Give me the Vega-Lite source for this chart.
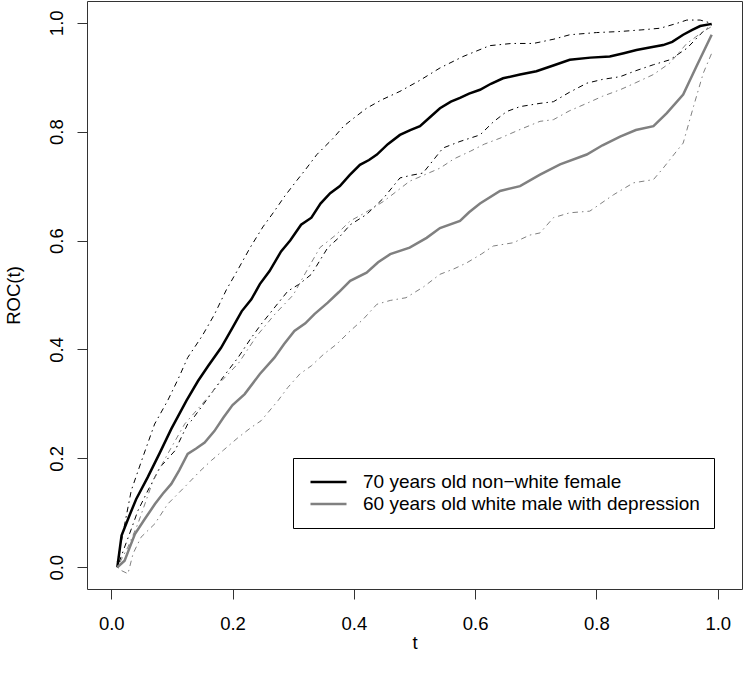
{
  "$schema": "https://vega.github.io/schema/vega-lite/v6.json",
  "width": 655,
  "height": 588,
  "autosize": {"type": "none"},
  "padding": {"left": 87, "top": 1, "right": 2, "bottom": 87},
  "background": "white",
  "config": {
    "font": "Liberation Sans",
    "view": {"stroke": "#333", "strokeWidth": 1},
    "axis": {"grid": false, "domain": false, "tickSize": 10, "tickColor": "#333", "tickWidth": 1,
      "labelFont": "Liberation Sans", "labelFontSize": 18.5, "labelColor": "#000",
      "titleFont": "Liberation Sans", "titleFontSize": 18.5, "titleFontWeight": "normal", "titleColor": "#000"}
  },
  "datasets": {
    "roc": [
      {"curve": "70 years old non−white female", "part": "est", "t": 0.01, "v": 0.0},
      {"curve": "70 years old non−white female", "part": "est", "t": 0.017, "v": 0.058},
      {"curve": "70 years old non−white female", "part": "est", "t": 0.03, "v": 0.095},
      {"curve": "70 years old non−white female", "part": "est", "t": 0.041, "v": 0.125},
      {"curve": "70 years old non−white female", "part": "est", "t": 0.06, "v": 0.165},
      {"curve": "70 years old non−white female", "part": "est", "t": 0.08, "v": 0.21},
      {"curve": "70 years old non−white female", "part": "est", "t": 0.099, "v": 0.254},
      {"curve": "70 years old non−white female", "part": "est", "t": 0.124, "v": 0.306},
      {"curve": "70 years old non−white female", "part": "est", "t": 0.143, "v": 0.342},
      {"curve": "70 years old non−white female", "part": "est", "t": 0.16, "v": 0.37},
      {"curve": "70 years old non−white female", "part": "est", "t": 0.181, "v": 0.403},
      {"curve": "70 years old non−white female", "part": "est", "t": 0.2, "v": 0.44},
      {"curve": "70 years old non−white female", "part": "est", "t": 0.215, "v": 0.47},
      {"curve": "70 years old non−white female", "part": "est", "t": 0.231, "v": 0.492},
      {"curve": "70 years old non−white female", "part": "est", "t": 0.245, "v": 0.52},
      {"curve": "70 years old non−white female", "part": "est", "t": 0.261, "v": 0.544},
      {"curve": "70 years old non−white female", "part": "est", "t": 0.28, "v": 0.58},
      {"curve": "70 years old non−white female", "part": "est", "t": 0.295, "v": 0.6},
      {"curve": "70 years old non−white female", "part": "est", "t": 0.313, "v": 0.629},
      {"curve": "70 years old non−white female", "part": "est", "t": 0.33, "v": 0.642},
      {"curve": "70 years old non−white female", "part": "est", "t": 0.345, "v": 0.668},
      {"curve": "70 years old non−white female", "part": "est", "t": 0.361, "v": 0.687},
      {"curve": "70 years old non−white female", "part": "est", "t": 0.377, "v": 0.7},
      {"curve": "70 years old non−white female", "part": "est", "t": 0.393, "v": 0.72},
      {"curve": "70 years old non−white female", "part": "est", "t": 0.41, "v": 0.739},
      {"curve": "70 years old non−white female", "part": "est", "t": 0.425, "v": 0.748},
      {"curve": "70 years old non−white female", "part": "est", "t": 0.438, "v": 0.758},
      {"curve": "70 years old non−white female", "part": "est", "t": 0.456, "v": 0.777},
      {"curve": "70 years old non−white female", "part": "est", "t": 0.476, "v": 0.794},
      {"curve": "70 years old non−white female", "part": "est", "t": 0.493, "v": 0.803},
      {"curve": "70 years old non−white female", "part": "est", "t": 0.509, "v": 0.81},
      {"curve": "70 years old non−white female", "part": "est", "t": 0.525, "v": 0.826},
      {"curve": "70 years old non−white female", "part": "est", "t": 0.542, "v": 0.843},
      {"curve": "70 years old non−white female", "part": "est", "t": 0.56, "v": 0.855},
      {"curve": "70 years old non−white female", "part": "est", "t": 0.575, "v": 0.862},
      {"curve": "70 years old non−white female", "part": "est", "t": 0.59, "v": 0.87},
      {"curve": "70 years old non−white female", "part": "est", "t": 0.608, "v": 0.877},
      {"curve": "70 years old non−white female", "part": "est", "t": 0.626, "v": 0.888},
      {"curve": "70 years old non−white female", "part": "est", "t": 0.646, "v": 0.898},
      {"curve": "70 years old non−white female", "part": "est", "t": 0.674, "v": 0.905},
      {"curve": "70 years old non−white female", "part": "est", "t": 0.701, "v": 0.911},
      {"curve": "70 years old non−white female", "part": "est", "t": 0.73, "v": 0.922},
      {"curve": "70 years old non−white female", "part": "est", "t": 0.756, "v": 0.932},
      {"curve": "70 years old non−white female", "part": "est", "t": 0.79, "v": 0.936},
      {"curve": "70 years old non−white female", "part": "est", "t": 0.822, "v": 0.938},
      {"curve": "70 years old non−white female", "part": "est", "t": 0.845, "v": 0.944},
      {"curve": "70 years old non−white female", "part": "est", "t": 0.866, "v": 0.95},
      {"curve": "70 years old non−white female", "part": "est", "t": 0.89, "v": 0.955},
      {"curve": "70 years old non−white female", "part": "est", "t": 0.91, "v": 0.959},
      {"curve": "70 years old non−white female", "part": "est", "t": 0.925, "v": 0.965},
      {"curve": "70 years old non−white female", "part": "est", "t": 0.943, "v": 0.978},
      {"curve": "70 years old non−white female", "part": "est", "t": 0.958, "v": 0.987},
      {"curve": "70 years old non−white female", "part": "est", "t": 0.971, "v": 0.994},
      {"curve": "70 years old non−white female", "part": "est", "t": 0.99, "v": 0.998},

      {"curve": "70 years old non−white female", "part": "upper", "t": 0.01, "v": 0.01},
      {"curve": "70 years old non−white female", "part": "upper", "t": 0.019, "v": 0.061},
      {"curve": "70 years old non−white female", "part": "upper", "t": 0.033, "v": 0.141},
      {"curve": "70 years old non−white female", "part": "upper", "t": 0.052, "v": 0.202},
      {"curve": "70 years old non−white female", "part": "upper", "t": 0.0715, "v": 0.263},
      {"curve": "70 years old non−white female", "part": "upper", "t": 0.093, "v": 0.306},
      {"curve": "70 years old non−white female", "part": "upper", "t": 0.11, "v": 0.345},
      {"curve": "70 years old non−white female", "part": "upper", "t": 0.126, "v": 0.385},
      {"curve": "70 years old non−white female", "part": "upper", "t": 0.15, "v": 0.425},
      {"curve": "70 years old non−white female", "part": "upper", "t": 0.17, "v": 0.464},
      {"curve": "70 years old non−white female", "part": "upper", "t": 0.19, "v": 0.51},
      {"curve": "70 years old non−white female", "part": "upper", "t": 0.209, "v": 0.547},
      {"curve": "70 years old non−white female", "part": "upper", "t": 0.229, "v": 0.587},
      {"curve": "70 years old non−white female", "part": "upper", "t": 0.25, "v": 0.625},
      {"curve": "70 years old non−white female", "part": "upper", "t": 0.269, "v": 0.654},
      {"curve": "70 years old non−white female", "part": "upper", "t": 0.285, "v": 0.68},
      {"curve": "70 years old non−white female", "part": "upper", "t": 0.305, "v": 0.709},
      {"curve": "70 years old non−white female", "part": "upper", "t": 0.32, "v": 0.73},
      {"curve": "70 years old non−white female", "part": "upper", "t": 0.339, "v": 0.758},
      {"curve": "70 years old non−white female", "part": "upper", "t": 0.366, "v": 0.788},
      {"curve": "70 years old non−white female", "part": "upper", "t": 0.383, "v": 0.81},
      {"curve": "70 years old non−white female", "part": "upper", "t": 0.4, "v": 0.825},
      {"curve": "70 years old non−white female", "part": "upper", "t": 0.421, "v": 0.843},
      {"curve": "70 years old non−white female", "part": "upper", "t": 0.445, "v": 0.858},
      {"curve": "70 years old non−white female", "part": "upper", "t": 0.476, "v": 0.874},
      {"curve": "70 years old non−white female", "part": "upper", "t": 0.51, "v": 0.895},
      {"curve": "70 years old non−white female", "part": "upper", "t": 0.542, "v": 0.917},
      {"curve": "70 years old non−white female", "part": "upper", "t": 0.58, "v": 0.938},
      {"curve": "70 years old non−white female", "part": "upper", "t": 0.624, "v": 0.958},
      {"curve": "70 years old non−white female", "part": "upper", "t": 0.66, "v": 0.962},
      {"curve": "70 years old non−white female", "part": "upper", "t": 0.696, "v": 0.962},
      {"curve": "70 years old non−white female", "part": "upper", "t": 0.73, "v": 0.97},
      {"curve": "70 years old non−white female", "part": "upper", "t": 0.756, "v": 0.978},
      {"curve": "70 years old non−white female", "part": "upper", "t": 0.8, "v": 0.982},
      {"curve": "70 years old non−white female", "part": "upper", "t": 0.839, "v": 0.984},
      {"curve": "70 years old non−white female", "part": "upper", "t": 0.875, "v": 0.987},
      {"curve": "70 years old non−white female", "part": "upper", "t": 0.905, "v": 0.99},
      {"curve": "70 years old non−white female", "part": "upper", "t": 0.93, "v": 0.998},
      {"curve": "70 years old non−white female", "part": "upper", "t": 0.949, "v": 1.005},
      {"curve": "70 years old non−white female", "part": "upper", "t": 0.971, "v": 1.005},
      {"curve": "70 years old non−white female", "part": "upper", "t": 0.99, "v": 0.999},

      {"curve": "70 years old non−white female", "part": "lower", "t": 0.01, "v": 0.0},
      {"curve": "70 years old non−white female", "part": "lower", "t": 0.022, "v": 0.037},
      {"curve": "70 years old non−white female", "part": "lower", "t": 0.033, "v": 0.07},
      {"curve": "70 years old non−white female", "part": "lower", "t": 0.044, "v": 0.104},
      {"curve": "70 years old non−white female", "part": "lower", "t": 0.06, "v": 0.14},
      {"curve": "70 years old non−white female", "part": "lower", "t": 0.08, "v": 0.183},
      {"curve": "70 years old non−white female", "part": "lower", "t": 0.105, "v": 0.214},
      {"curve": "70 years old non−white female", "part": "lower", "t": 0.126, "v": 0.263},
      {"curve": "70 years old non−white female", "part": "lower", "t": 0.132, "v": 0.269},
      {"curve": "70 years old non−white female", "part": "lower", "t": 0.159, "v": 0.31},
      {"curve": "70 years old non−white female", "part": "lower", "t": 0.185, "v": 0.35},
      {"curve": "70 years old non−white female", "part": "lower", "t": 0.209, "v": 0.385},
      {"curve": "70 years old non−white female", "part": "lower", "t": 0.23, "v": 0.42},
      {"curve": "70 years old non−white female", "part": "lower", "t": 0.247, "v": 0.446},
      {"curve": "70 years old non−white female", "part": "lower", "t": 0.27, "v": 0.478},
      {"curve": "70 years old non−white female", "part": "lower", "t": 0.291, "v": 0.507},
      {"curve": "70 years old non−white female", "part": "lower", "t": 0.31, "v": 0.52},
      {"curve": "70 years old non−white female", "part": "lower", "t": 0.33, "v": 0.538},
      {"curve": "70 years old non−white female", "part": "lower", "t": 0.357, "v": 0.587},
      {"curve": "70 years old non−white female", "part": "lower", "t": 0.375, "v": 0.605},
      {"curve": "70 years old non−white female", "part": "lower", "t": 0.394, "v": 0.629},
      {"curve": "70 years old non−white female", "part": "lower", "t": 0.421, "v": 0.648},
      {"curve": "70 years old non−white female", "part": "lower", "t": 0.449, "v": 0.678},
      {"curve": "70 years old non−white female", "part": "lower", "t": 0.476, "v": 0.715},
      {"curve": "70 years old non−white female", "part": "lower", "t": 0.495, "v": 0.72},
      {"curve": "70 years old non−white female", "part": "lower", "t": 0.514, "v": 0.724},
      {"curve": "70 years old non−white female", "part": "lower", "t": 0.547, "v": 0.77},
      {"curve": "70 years old non−white female", "part": "lower", "t": 0.575, "v": 0.782},
      {"curve": "70 years old non−white female", "part": "lower", "t": 0.608, "v": 0.794},
      {"curve": "70 years old non−white female", "part": "lower", "t": 0.63, "v": 0.818},
      {"curve": "70 years old non−white female", "part": "lower", "t": 0.652, "v": 0.837},
      {"curve": "70 years old non−white female", "part": "lower", "t": 0.674, "v": 0.846},
      {"curve": "70 years old non−white female", "part": "lower", "t": 0.707, "v": 0.852},
      {"curve": "70 years old non−white female", "part": "lower", "t": 0.729, "v": 0.855},
      {"curve": "70 years old non−white female", "part": "lower", "t": 0.755, "v": 0.872},
      {"curve": "70 years old non−white female", "part": "lower", "t": 0.784, "v": 0.889},
      {"curve": "70 years old non−white female", "part": "lower", "t": 0.81, "v": 0.896},
      {"curve": "70 years old non−white female", "part": "lower", "t": 0.839, "v": 0.901},
      {"curve": "70 years old non−white female", "part": "lower", "t": 0.865, "v": 0.912},
      {"curve": "70 years old non−white female", "part": "lower", "t": 0.894, "v": 0.923},
      {"curve": "70 years old non−white female", "part": "lower", "t": 0.921, "v": 0.932},
      {"curve": "70 years old non−white female", "part": "lower", "t": 0.949, "v": 0.953},
      {"curve": "70 years old non−white female", "part": "lower", "t": 0.976, "v": 0.984},
      {"curve": "70 years old non−white female", "part": "lower", "t": 0.99, "v": 0.996},

      {"curve": "60 years old white male with depression", "part": "est", "t": 0.01, "v": 0.0},
      {"curve": "60 years old white male with depression", "part": "est", "t": 0.022, "v": 0.012},
      {"curve": "60 years old white male with depression", "part": "est", "t": 0.03, "v": 0.035},
      {"curve": "60 years old white male with depression", "part": "est", "t": 0.039, "v": 0.061},
      {"curve": "60 years old white male with depression", "part": "est", "t": 0.055, "v": 0.088},
      {"curve": "60 years old white male with depression", "part": "est", "t": 0.072, "v": 0.116},
      {"curve": "60 years old white male with depression", "part": "est", "t": 0.085, "v": 0.135},
      {"curve": "60 years old white male with depression", "part": "est", "t": 0.099, "v": 0.153},
      {"curve": "60 years old white male with depression", "part": "est", "t": 0.112, "v": 0.178},
      {"curve": "60 years old white male with depression", "part": "est", "t": 0.126, "v": 0.208},
      {"curve": "60 years old white male with depression", "part": "est", "t": 0.14, "v": 0.218},
      {"curve": "60 years old white male with depression", "part": "est", "t": 0.154, "v": 0.229},
      {"curve": "60 years old white male with depression", "part": "est", "t": 0.17, "v": 0.25},
      {"curve": "60 years old white male with depression", "part": "est", "t": 0.185, "v": 0.275},
      {"curve": "60 years old white male with depression", "part": "est", "t": 0.2, "v": 0.298},
      {"curve": "60 years old white male with depression", "part": "est", "t": 0.22, "v": 0.318},
      {"curve": "60 years old white male with depression", "part": "est", "t": 0.245, "v": 0.355},
      {"curve": "60 years old white male with depression", "part": "est", "t": 0.269, "v": 0.385},
      {"curve": "60 years old white male with depression", "part": "est", "t": 0.285, "v": 0.41},
      {"curve": "60 years old white male with depression", "part": "est", "t": 0.302, "v": 0.434},
      {"curve": "60 years old white male with depression", "part": "est", "t": 0.32, "v": 0.448},
      {"curve": "60 years old white male with depression", "part": "est", "t": 0.335, "v": 0.465},
      {"curve": "60 years old white male with depression", "part": "est", "t": 0.357, "v": 0.486},
      {"curve": "60 years old white male with depression", "part": "est", "t": 0.375, "v": 0.505},
      {"curve": "60 years old white male with depression", "part": "est", "t": 0.394, "v": 0.526},
      {"curve": "60 years old white male with depression", "part": "est", "t": 0.421, "v": 0.541},
      {"curve": "60 years old white male with depression", "part": "est", "t": 0.44, "v": 0.56},
      {"curve": "60 years old white male with depression", "part": "est", "t": 0.46, "v": 0.575},
      {"curve": "60 years old white male with depression", "part": "est", "t": 0.492, "v": 0.587},
      {"curve": "60 years old white male with depression", "part": "est", "t": 0.52, "v": 0.605},
      {"curve": "60 years old white male with depression", "part": "est", "t": 0.542, "v": 0.623},
      {"curve": "60 years old white male with depression", "part": "est", "t": 0.575, "v": 0.636},
      {"curve": "60 years old white male with depression", "part": "est", "t": 0.59, "v": 0.652},
      {"curve": "60 years old white male with depression", "part": "est", "t": 0.608, "v": 0.668},
      {"curve": "60 years old white male with depression", "part": "est", "t": 0.641, "v": 0.691},
      {"curve": "60 years old white male with depression", "part": "est", "t": 0.674, "v": 0.7},
      {"curve": "60 years old white male with depression", "part": "est", "t": 0.707, "v": 0.721},
      {"curve": "60 years old white male with depression", "part": "est", "t": 0.74, "v": 0.74},
      {"curve": "60 years old white male with depression", "part": "est", "t": 0.784, "v": 0.758},
      {"curve": "60 years old white male with depression", "part": "est", "t": 0.81, "v": 0.775},
      {"curve": "60 years old white male with depression", "part": "est", "t": 0.839, "v": 0.791},
      {"curve": "60 years old white male with depression", "part": "est", "t": 0.865, "v": 0.803},
      {"curve": "60 years old white male with depression", "part": "est", "t": 0.894, "v": 0.81},
      {"curve": "60 years old white male with depression", "part": "est", "t": 0.916, "v": 0.834},
      {"curve": "60 years old white male with depression", "part": "est", "t": 0.943, "v": 0.868},
      {"curve": "60 years old white male with depression", "part": "est", "t": 0.965, "v": 0.92},
      {"curve": "60 years old white male with depression", "part": "est", "t": 0.99, "v": 0.978},

      {"curve": "60 years old white male with depression", "part": "upper", "t": 0.01, "v": 0.0},
      {"curve": "60 years old white male with depression", "part": "upper", "t": 0.0275, "v": 0.037},
      {"curve": "60 years old white male with depression", "part": "upper", "t": 0.044, "v": 0.08},
      {"curve": "60 years old white male with depression", "part": "upper", "t": 0.069, "v": 0.159},
      {"curve": "60 years old white male with depression", "part": "upper", "t": 0.093, "v": 0.208},
      {"curve": "60 years old white male with depression", "part": "upper", "t": 0.121, "v": 0.263},
      {"curve": "60 years old white male with depression", "part": "upper", "t": 0.15, "v": 0.3},
      {"curve": "60 years old white male with depression", "part": "upper", "t": 0.18, "v": 0.34},
      {"curve": "60 years old white male with depression", "part": "upper", "t": 0.21, "v": 0.375},
      {"curve": "60 years old white male with depression", "part": "upper", "t": 0.24, "v": 0.425},
      {"curve": "60 years old white male with depression", "part": "upper", "t": 0.27, "v": 0.465},
      {"curve": "60 years old white male with depression", "part": "upper", "t": 0.3, "v": 0.5},
      {"curve": "60 years old white male with depression", "part": "upper", "t": 0.32, "v": 0.54},
      {"curve": "60 years old white male with depression", "part": "upper", "t": 0.344, "v": 0.587},
      {"curve": "60 years old white male with depression", "part": "upper", "t": 0.37, "v": 0.61},
      {"curve": "60 years old white male with depression", "part": "upper", "t": 0.394, "v": 0.636},
      {"curve": "60 years old white male with depression", "part": "upper", "t": 0.42, "v": 0.652},
      {"curve": "60 years old white male with depression", "part": "upper", "t": 0.449, "v": 0.672},
      {"curve": "60 years old white male with depression", "part": "upper", "t": 0.47, "v": 0.69},
      {"curve": "60 years old white male with depression", "part": "upper", "t": 0.492, "v": 0.709},
      {"curve": "60 years old white male with depression", "part": "upper", "t": 0.515, "v": 0.72},
      {"curve": "60 years old white male with depression", "part": "upper", "t": 0.542, "v": 0.733},
      {"curve": "60 years old white male with depression", "part": "upper", "t": 0.565, "v": 0.75},
      {"curve": "60 years old white male with depression", "part": "upper", "t": 0.592, "v": 0.764},
      {"curve": "60 years old white male with depression", "part": "upper", "t": 0.615, "v": 0.777},
      {"curve": "60 years old white male with depression", "part": "upper", "t": 0.641, "v": 0.788},
      {"curve": "60 years old white male with depression", "part": "upper", "t": 0.674, "v": 0.804},
      {"curve": "60 years old white male with depression", "part": "upper", "t": 0.707, "v": 0.819},
      {"curve": "60 years old white male with depression", "part": "upper", "t": 0.729, "v": 0.822},
      {"curve": "60 years old white male with depression", "part": "upper", "t": 0.755, "v": 0.838},
      {"curve": "60 years old white male with depression", "part": "upper", "t": 0.784, "v": 0.852},
      {"curve": "60 years old white male with depression", "part": "upper", "t": 0.81, "v": 0.865},
      {"curve": "60 years old white male with depression", "part": "upper", "t": 0.839, "v": 0.877},
      {"curve": "60 years old white male with depression", "part": "upper", "t": 0.865, "v": 0.89},
      {"curve": "60 years old white male with depression", "part": "upper", "t": 0.894, "v": 0.905},
      {"curve": "60 years old white male with depression", "part": "upper", "t": 0.921, "v": 0.926},
      {"curve": "60 years old white male with depression", "part": "upper", "t": 0.949, "v": 0.962},
      {"curve": "60 years old white male with depression", "part": "upper", "t": 0.976, "v": 0.984},
      {"curve": "60 years old white male with depression", "part": "upper", "t": 0.99, "v": 0.993},

      {"curve": "60 years old white male with depression", "part": "lower", "t": 0.01, "v": 0.0},
      {"curve": "60 years old white male with depression", "part": "lower", "t": 0.0165, "v": -0.006},
      {"curve": "60 years old white male with depression", "part": "lower", "t": 0.0275, "v": -0.012},
      {"curve": "60 years old white male with depression", "part": "lower", "t": 0.036, "v": 0.025},
      {"curve": "60 years old white male with depression", "part": "lower", "t": 0.049, "v": 0.055},
      {"curve": "60 years old white male with depression", "part": "lower", "t": 0.072, "v": 0.08},
      {"curve": "60 years old white male with depression", "part": "lower", "t": 0.093, "v": 0.116},
      {"curve": "60 years old white male with depression", "part": "lower", "t": 0.11, "v": 0.135},
      {"curve": "60 years old white male with depression", "part": "lower", "t": 0.126, "v": 0.153},
      {"curve": "60 years old white male with depression", "part": "lower", "t": 0.145, "v": 0.175},
      {"curve": "60 years old white male with depression", "part": "lower", "t": 0.165, "v": 0.196},
      {"curve": "60 years old white male with depression", "part": "lower", "t": 0.185, "v": 0.215},
      {"curve": "60 years old white male with depression", "part": "lower", "t": 0.209, "v": 0.238},
      {"curve": "60 years old white male with depression", "part": "lower", "t": 0.231, "v": 0.257},
      {"curve": "60 years old white male with depression", "part": "lower", "t": 0.247, "v": 0.269},
      {"curve": "60 years old white male with depression", "part": "lower", "t": 0.275, "v": 0.306},
      {"curve": "60 years old white male with depression", "part": "lower", "t": 0.291, "v": 0.33},
      {"curve": "60 years old white male with depression", "part": "lower", "t": 0.311, "v": 0.355},
      {"curve": "60 years old white male with depression", "part": "lower", "t": 0.33, "v": 0.37},
      {"curve": "60 years old white male with depression", "part": "lower", "t": 0.35, "v": 0.391},
      {"curve": "60 years old white male with depression", "part": "lower", "t": 0.372, "v": 0.41},
      {"curve": "60 years old white male with depression", "part": "lower", "t": 0.394, "v": 0.434},
      {"curve": "60 years old white male with depression", "part": "lower", "t": 0.415, "v": 0.455},
      {"curve": "60 years old white male with depression", "part": "lower", "t": 0.438, "v": 0.483},
      {"curve": "60 years old white male with depression", "part": "lower", "t": 0.46, "v": 0.49},
      {"curve": "60 years old white male with depression", "part": "lower", "t": 0.486, "v": 0.495},
      {"curve": "60 years old white male with depression", "part": "lower", "t": 0.515, "v": 0.515},
      {"curve": "60 years old white male with depression", "part": "lower", "t": 0.542, "v": 0.538},
      {"curve": "60 years old white male with depression", "part": "lower", "t": 0.565, "v": 0.548},
      {"curve": "60 years old white male with depression", "part": "lower", "t": 0.586, "v": 0.559},
      {"curve": "60 years old white male with depression", "part": "lower", "t": 0.61, "v": 0.575},
      {"curve": "60 years old white male with depression", "part": "lower", "t": 0.63, "v": 0.59},
      {"curve": "60 years old white male with depression", "part": "lower", "t": 0.663, "v": 0.596},
      {"curve": "60 years old white male with depression", "part": "lower", "t": 0.69, "v": 0.61},
      {"curve": "60 years old white male with depression", "part": "lower", "t": 0.707, "v": 0.614},
      {"curve": "60 years old white male with depression", "part": "lower", "t": 0.729, "v": 0.642},
      {"curve": "60 years old white male with depression", "part": "lower", "t": 0.756, "v": 0.651},
      {"curve": "60 years old white male with depression", "part": "lower", "t": 0.789, "v": 0.654},
      {"curve": "60 years old white male with depression", "part": "lower", "t": 0.828, "v": 0.684},
      {"curve": "60 years old white male with depression", "part": "lower", "t": 0.861, "v": 0.706},
      {"curve": "60 years old white male with depression", "part": "lower", "t": 0.894, "v": 0.712},
      {"curve": "60 years old white male with depression", "part": "lower", "t": 0.91, "v": 0.733},
      {"curve": "60 years old white male with depression", "part": "lower", "t": 0.932, "v": 0.764},
      {"curve": "60 years old white male with depression", "part": "lower", "t": 0.943, "v": 0.779},
      {"curve": "60 years old white male with depression", "part": "lower", "t": 0.96, "v": 0.846},
      {"curve": "60 years old white male with depression", "part": "lower", "t": 0.976, "v": 0.907},
      {"curve": "60 years old white male with depression", "part": "lower", "t": 0.99, "v": 0.944}
    ]
  },
  "data": {"name": "roc"},
  "encoding": {
    "x": {"field": "t", "type": "quantitative",
      "scale": {"domain": [-0.04, 1.04], "nice": false, "zero": false},
      "axis": {"values": [0, 0.2, 0.4, 0.6, 0.8, 1.0], "format": ".1f", "title": "t",
        "labelBaseline": "alphabetic", "labelPadding": 30.5,
        "titleBaseline": "alphabetic", "titleY": 59}},
    "y": {"field": "v", "type": "quantitative",
      "scale": {"domain": [-0.04, 1.04], "nice": false, "zero": false},
      "axis": {"values": [0, 0.2, 0.4, 0.6, 0.8, 1.0], "format": ".1f", "title": "ROC(t)",
        "labelAngle": -90, "labelAlign": "center", "labelBaseline": "alphabetic", "labelPadding": 15,
        "titleBaseline": "alphabetic", "titleX": -68, "titleAngle": -90}}
  },
  "layer": [
    {
      "transform": [{"filter": "datum.part != 'est' && datum.curve == '70 years old non−white female'"}],
      "mark": {"type": "line", "color": "#000000", "strokeWidth": 1, "strokeDash": [1.5, 4, 5.5, 4]},
      "encoding": {"detail": {"field": "part"}}
    },
    {
      "transform": [{"filter": "datum.part != 'est' && datum.curve == '60 years old white male with depression'"}],
      "mark": {"type": "line", "color": "#808080", "strokeWidth": 1, "strokeDash": [1.5, 4, 5.5, 4]},
      "encoding": {"detail": {"field": "part"}}
    },
    {
      "transform": [{"filter": "datum.part == 'est'"}],
      "mark": {"type": "line", "strokeWidth": 2.5},
      "encoding": {
        "color": {"field": "curve", "type": "nominal",
          "scale": {"domain": ["70 years old non−white female", "60 years old white male with depression"], "range": ["#000000", "#808080"]},
          "legend": {"title": null, "orient": "none", "legendX": 206, "legendY": 457,
            "strokeColor": "#000", "fillColor": "#fff", "padding": 13.5,
            "symbolType": "M-2,0H2", "symbolSize": 324, "symbolStrokeWidth": 2.5, "symbolOffset": 11.5,
            "labelOffset": 24, "labelFontSize": 19, "labelFont": "Liberation Sans", "labelColor": "#000",
            "labelLimit": 500, "rowPadding": 1}}
      }
    }
  ]
}
